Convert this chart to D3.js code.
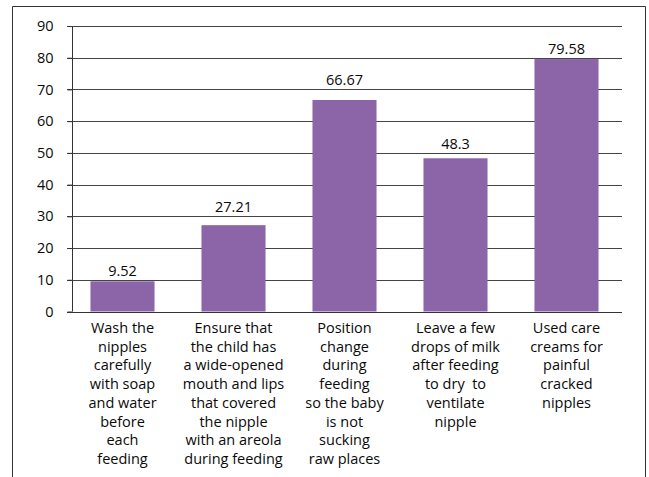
<!DOCTYPE html>
<html><head><meta charset="utf-8">
<script src="https://cdn.jsdelivr.net/npm/d3@7"></script>
<style>body{margin:0;background:#fff}svg{display:block}text{font-family:"Open Sans",sans-serif;fill:#0a0a0a}</style>
</head><body>
<svg id="c" width="649" height="477"></svg>
<script>
const categories = [
  ["Wash the","nipples","carefully","with soap","and water","before","each","feeding"],
  ["Ensure that","the child has","a wide-opened","mouth and lips","that covered","the nipple","with an areola","during feeding"],
  ["Position","change","during","feeding","so the baby","is not","sucking","raw places"],
  ["Leave a few","drops of milk","after feeding","to dry  to","ventilate","nipple"],
  ["Used care","creams for","painful","cracked","nipples"]
];
const values = [9.52, 27.21, 66.67, 48.3, 79.58];
const valueLabels = ["9.52", "27.21", "66.67", "48.3", "79.58"];
const yTicks = [0,10,20,30,40,50,60,70,80,90];

const FS = 14.5;
const svg = d3.select("#c");
svg.append("path").attr("d","M12.5,480 V6.5 H645.5 V480").attr("fill","none").attr("stroke","#333").attr("stroke-width",1);

const x = d3.scaleBand().domain(d3.range(values.length)).range([67,622]).paddingInner(0.423).paddingOuter(0.2115);
const y = d3.scaleLinear().domain([0,90]).range([311.5,26]);

svg.append("g").selectAll("line").data(yTicks.filter(d=>d>0)).join("line")
  .attr("x1",67).attr("x2",622).attr("y1",d=>Math.round(y(d))+0.5).attr("y2",d=>Math.round(y(d))+0.5)
  .attr("stroke","#444").attr("stroke-width",1);

svg.append("g").selectAll("rect").data(values).join("rect")
  .attr("x",(d,i)=>x(i)).attr("width",x.bandwidth())
  .attr("y",d=>y(d)).attr("height",d=>y(0)-y(d)).attr("fill","#8C64A8");

const yAxis = d3.axisLeft(y).tickValues(yTicks).tickSize(5).tickPadding(14);
const ga = svg.append("g").attr("transform","translate(72.5,0)").call(yAxis);
ga.select(".domain").remove();
ga.selectAll(".tick line").attr("stroke","#333");
ga.selectAll(".tick text").attr("font-size",FS).attr("font-family","Open Sans").attr("fill","#0a0a0a");
svg.append("line").attr("x1",72.5).attr("x2",72.5).attr("y1",y(90)).attr("y2",y(0)).attr("stroke","#333");
svg.append("line").attr("x1",67).attr("x2",622).attr("y1",Math.round(y(0))+0.5).attr("y2",Math.round(y(0))+0.5).attr("stroke","#333");

// value labels sit above the bar, clearing the gridline just above the bar top
svg.append("g").selectAll("text").data(values).join("text")
  .attr("x",(d,i)=>x(i)+x.bandwidth()/2)
  .attr("y",d=>Math.min(y(d)-5, y(Math.ceil(d/10)*10)-4))
  .attr("text-anchor","middle").attr("font-size",FS).text((d,i)=>valueLabels[i]);

const cg = svg.append("g").selectAll("text").data(categories).join("text")
  .attr("text-anchor","middle").attr("font-size",FS);
cg.each(function(lines,i){
  const t = d3.select(this);
  lines.forEach((l,j)=>{
    t.append("tspan").attr("x",x(i)+x.bandwidth()/2).attr("y",333+j*18.7).attr("xml:space","preserve").text(l);
  });
});
</script>
</body></html>
